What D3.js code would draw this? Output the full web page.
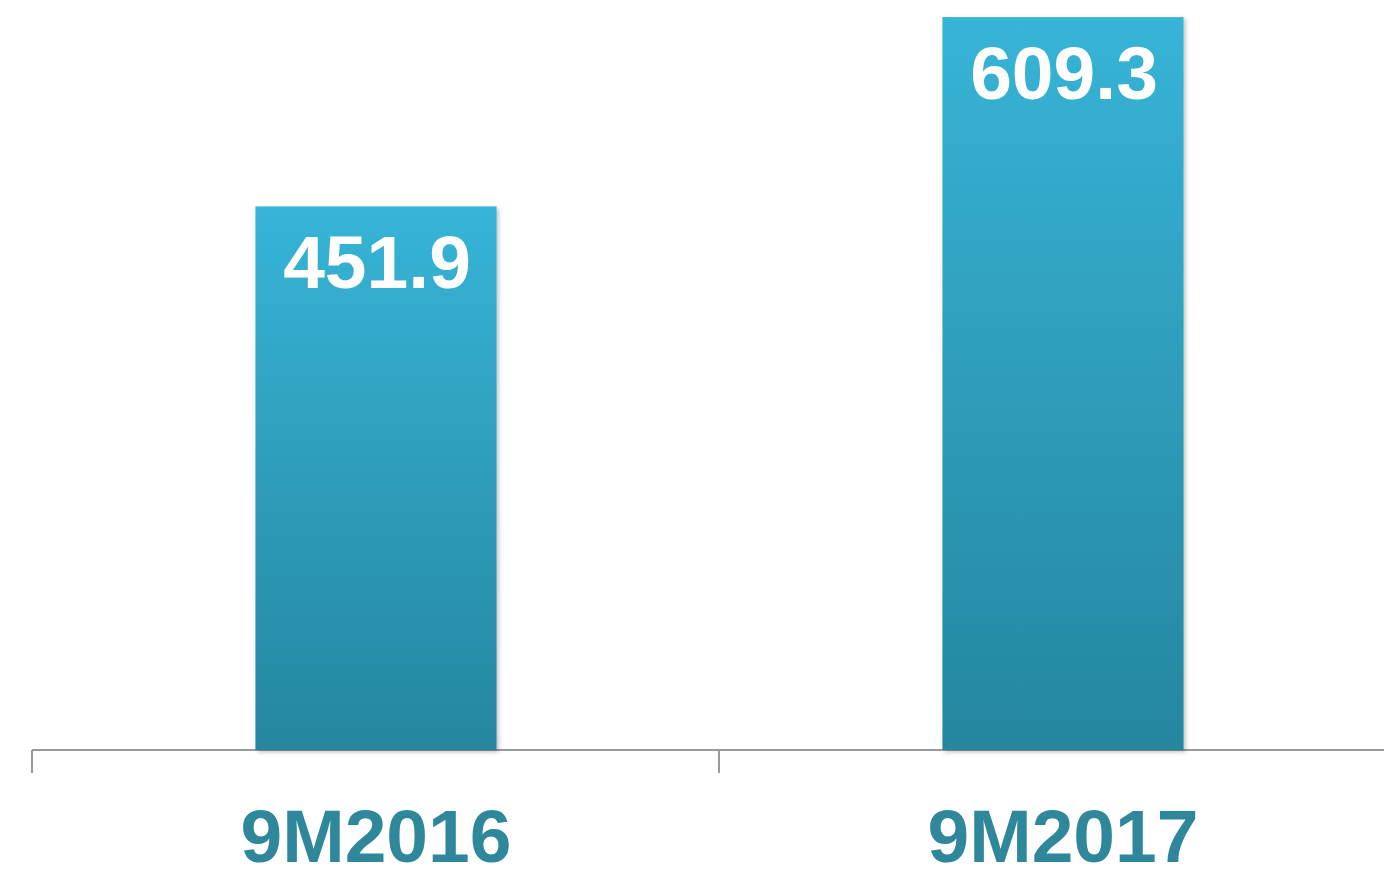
<!DOCTYPE html>
<html lang="en">
<script src='https://d3js.org/d3.v7.min.js'></script>
<style>
  body { margin: 0; background: #fff; }
  text { font-family: 'Liberation Sans', Arial, sans-serif; font-weight: bold; }
</style>
<body>
<svg width=1384 height=874></svg>
<script>
    // data
    var categories = ["9M2016", "9M2017"];
    var values = [451.9, 609.3];
    var valueLabels = ["451.9", "609.3"];

    var svg = d3.select("svg");
    var baseY = 750;

    // x: two equal slots from 32 to 1406, bars centred in each
    var x = d3.scaleBand().domain(categories).range([32.5, 1406.5])
        .paddingInner(0.649).paddingOuter(0.3245);
    var y = d3.scaleLinear().domain([0, 623.5]).range([baseY, 0]);

    var defs = svg.append("defs");
    var grad = defs.append("linearGradient")
        .attr("id", "barGrad")
        .attr("x1", 0).attr("y1", 0).attr("x2", 0).attr("y2", 1);
    grad.append("stop").attr("offset", "0%").attr("stop-color", "#37b4d7");
    grad.append("stop").attr("offset", "100%").attr("stop-color", "#25869f");

    var shadow = defs.append("filter").attr("id", "shadow")
        .attr("x", "-10%").attr("y", "-10%").attr("width", "120%").attr("height", "120%");
    shadow.append("feDropShadow")
        .attr("dx", 2).attr("dy", 2).attr("stdDeviation", 2)
        .attr("flood-color", "#000").attr("flood-opacity", 0.25);

    // axis line + ticks between categories
    var step = x.step();
    var axisG = svg.append("g").attr("transform", "translate(0," + baseY + ")");
    axisG.append("line")
        .attr("x1", 32).attr("x2", 1384).attr("y1", 0).attr("y2", 0)
        .attr("stroke", "#9a9a9a").attr("stroke-width", 2);
    axisG.selectAll(".tick")
        .data(d3.range(categories.length + 1))
        .enter().append("line")
        .attr("x1", function (i) { return 32 + i * step; })
        .attr("x2", function (i) { return 32 + i * step; })
        .attr("y1", 0).attr("y2", 23)
        .attr("stroke", "#9a9a9a").attr("stroke-width", 2);

    // bars
    svg.append("g").selectAll("rect")
        .data(values)
        .enter().append("rect")
        .attr("x", function (d, i) { return x(categories[i]); })
        .attr("y", function (d) { return y(d); })
        .attr("width", x.bandwidth())
        .attr("height", function (d) { return baseY - y(d); })
        .attr("fill", "url(#barGrad)")
        .attr("filter", "url(#shadow)");

    // value labels inside the bar tops
    svg.append("g").selectAll("text")
        .data(values)
        .enter().append("text")
        .attr("x", function (d, i) { return x(categories[i]) + x.bandwidth() / 2 + 1; })
        .attr("y", function (d) { return y(d) + 82; })
        .attr("text-anchor", "middle")
        .attr("font-size", 75)
        .attr("fill", "#fff")
        .text(function (d, i) { return valueLabels[i]; });

    // category labels
    svg.append("g").selectAll("text")
        .data(categories)
        .enter().append("text")
        .attr("x", function (d) { return x(d) + x.bandwidth() / 2; })
        .attr("y", 862)
        .attr("text-anchor", "middle")
        .attr("font-size", 75)
        .attr("fill", "#2f879c")
        .text(function (d) { return d; });
</script>
</body>
</html>
